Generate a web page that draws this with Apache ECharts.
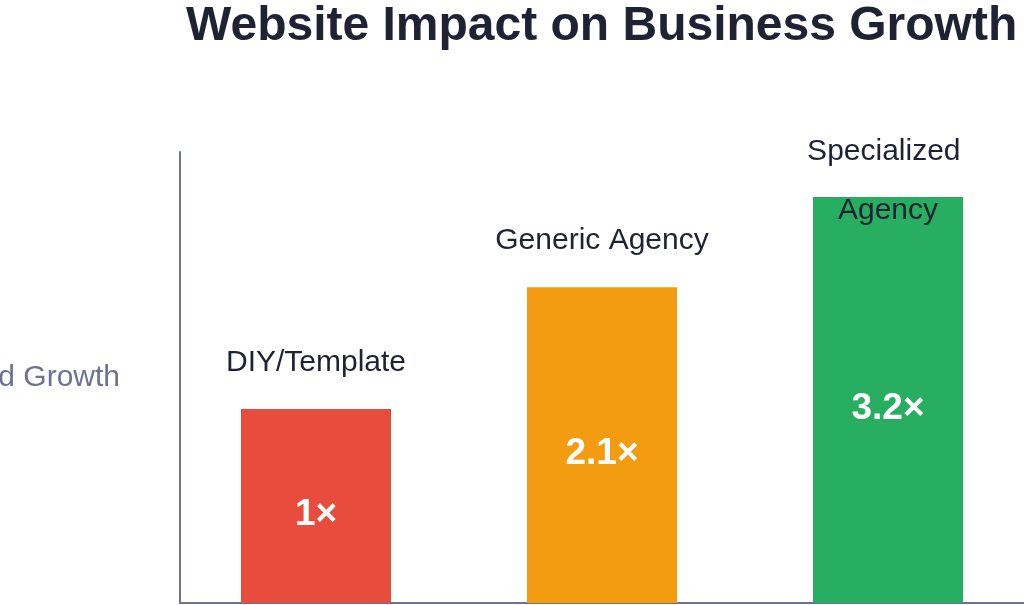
<!DOCTYPE html>
<html>
<head>
<meta charset="utf-8">
<script src="https://cdn.jsdelivr.net/npm/echarts@6/dist/echarts.min.js"></script>
<style>
html,body{margin:0;padding:0;background:#fff;}
#main{width:1024px;height:605px;}
</style>
</head>
<body>
<div id="main"></div>
<script>
// data
var categories=['DIY/Template','Generic Agency','Specialized Agency'];
var growth=[43,70,90];
var multipliers=['1×','2.1×','3.2×'];
var barColors=['#e74c3c','#f39c12','#27ae60'];

var chart=echarts.init(document.getElementById('main'));
var dark='#1e2233';
var axisGray='#6c7293';

var mainData=growth.map(function(v,i){
    var item={value:v,itemStyle:{color:barColors[i]}};
    if(i==2){
        item.label={offset:[0,60]};
    }
    return item;
});

var option={
    backgroundColor:'#ffffff',
    title:{
        text:'Website Impact on Business Growth',
        left:186,
        top:3,
        padding:0,
        textStyle:{fontFamily:'Liberation Sans',fontSize:48,fontWeight:'bold',color:dark}
    },
    grid:[
        {left:173,right:-7,top:152,bottom:2,containLabel:false,outerBoundsMode:'none'},
        // only carries the baseline, which starts at the y axis
        {left:180,right:0,top:152,bottom:2,containLabel:false,outerBoundsMode:'none'}
    ],
    xAxis:[
        {
            type:'category',
            data:categories,
            axisLine:{show:false},
            axisTick:{show:false},
            axisLabel:{show:false}
        },
        {
            type:'value',
            gridIndex:1,
            axisLine:{show:true,onZero:false,lineStyle:{color:axisGray,width:2}},
            axisTick:{show:false},
            axisLabel:{show:false},
            splitLine:{show:false}
        }
    ],
    yAxis:[
        {
            type:'value',
            min:0,
            max:100,
            offset:-7,
            name:'Projected Growth',
            nameLocation:'middle',
            nameRotate:0,
            nameGap:60,
            nameTextStyle:{fontFamily:'Liberation Sans',fontSize:30,color:axisGray,align:'right'},
            axisLine:{show:true,lineStyle:{color:axisGray,width:2}},
            axisTick:{show:false},
            axisLabel:{show:false},
            splitLine:{show:false}
        },
        {
            type:'value',
            gridIndex:1,
            show:false
        }
    ],
    series:[
        {
            type:'bar',
            data:mainData,
            barWidth:150,
            label:{
                show:true,
                position:'top',
                distance:17,
                formatter:'{b}',
                width:240,
                overflow:'break',
                lineHeight:59,
                fontFamily:'Liberation Sans',
                fontSize:30,
                color:dark
            }
        },
        {
            type:'bar',
            data:growth,
            barWidth:150,
            barGap:'-100%',
            itemStyle:{color:'transparent'},
            silent:true,
            z:3,
            label:{
                show:true,
                position:'inside',
                offset:[0,9],
                formatter:function(p){return multipliers[p.dataIndex];},
                fontFamily:'Liberation Sans',
                fontSize:37,
                fontWeight:'bold',
                color:'#ffffff'
            }
        }
    ]
};
chart.setOption(option);
</script>
</body>
</html>
